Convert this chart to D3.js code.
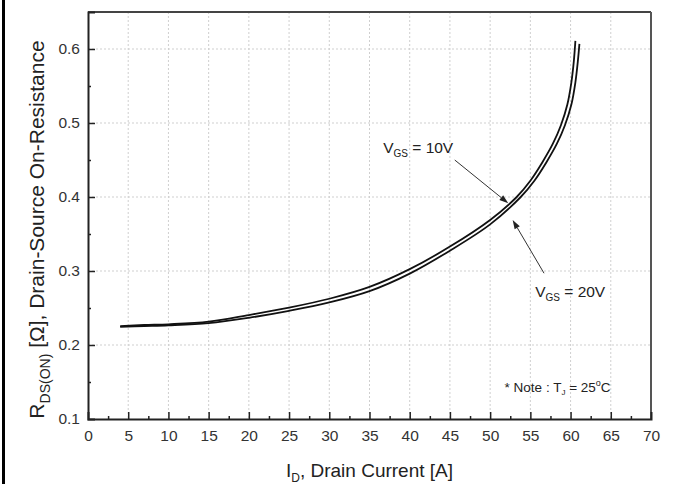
<!DOCTYPE html>
<html><head><meta charset="utf-8">
<script src="https://cdn.jsdelivr.net/npm/d3@7"></script>
<style>
html,body{margin:0;padding:0;background:#fff;}
svg{display:block;font-family:"Liberation Sans",Arial,sans-serif;}
</style></head>
<body>
<svg id="c" width="673" height="484"></svg>
<script>
// ---- data ----
const idVGS10 = [4, 7, 10, 15, 20, 25, 30, 35, 40, 45, 50, 53.3, 55.0, 56.5, 57.8, 58.8, 59.6, 60.1, 60.4, 60.6];
const rVGS10  = [0.2255, 0.227, 0.228, 0.2315, 0.2405, 0.2505, 0.2625, 0.2785, 0.3025, 0.333, 0.369, 0.400, 0.422, 0.447, 0.472, 0.497, 0.525, 0.555, 0.583, 0.611];
const idVGS20 = [4, 7, 10, 15, 20, 25, 30, 35, 40, 45, 50, 53.8, 55.5, 57.0, 58.3, 59.3, 60.1, 60.6, 60.9, 61.1];
const rVGS20  = [0.2245, 0.2255, 0.2265, 0.2295, 0.2368, 0.2462, 0.2575, 0.2728, 0.2965, 0.3275, 0.363, 0.400, 0.422, 0.447, 0.472, 0.497, 0.525, 0.555, 0.583, 0.607];
const xTickValues = [0, 5, 10, 15, 20, 25, 30, 35, 40, 45, 50, 55, 60, 65, 70];
const yTickValues = [0.1, 0.2, 0.3, 0.4, 0.5, 0.6];
const xDomain = [0, 70];
const yDomain = [0.1, 0.65];

const svg = d3.select("#c");
const L = 88, R = 651, T = 12, B = 419;
const x = d3.scaleLinear().domain(xDomain).range([L, R]);
const y = d3.scaleLinear().domain(yDomain).range([B, T]);

// image left border
svg.append("line").attr("x1", 3.5).attr("x2", 3.5).attr("y1", 0).attr("y2", 484)
  .attr("stroke", "#000").attr("stroke-width", 3);

// grid
const g = svg.append("g");
g.selectAll(".gx").data(xTickValues.filter(d => d > 0 && d < 70)).join("line")
  .attr("x1", d => x(d)).attr("x2", d => x(d)).attr("y1", T).attr("y2", B)
  .attr("stroke", "#cfcfcf").attr("stroke-width", 1).attr("stroke-dasharray", "2,2");
g.selectAll(".gy").data(yTickValues.filter(d => d > 0.1)).join("line")
  .attr("y1", d => y(d)).attr("y2", d => y(d)).attr("x1", L).attr("x2", R)
  .attr("stroke", "#cfcfcf").attr("stroke-width", 1).attr("stroke-dasharray", "2,2");

// frame
svg.append("line").attr("x1", L).attr("x2", R).attr("y1", T).attr("y2", T).attr("stroke", "#444").attr("stroke-width", 2);
svg.append("line").attr("x1", R).attr("x2", R).attr("y1", T).attr("y2", B).attr("stroke", "#555").attr("stroke-width", 2);

// axes
const xMinor = d3.range(2.5, 70, 5);
const yMinor = d3.range(0.15, 0.65, 0.1);
const xAx = svg.append("g").attr("transform", `translate(0,${B})`)
  .call(d3.axisBottom(x).tickValues(xTickValues).tickSize(-7).tickPadding(11).tickFormat(d3.format("d")));
const xAxMinor = svg.append("g").attr("transform", `translate(0,${B})`)
  .call(d3.axisBottom(x).tickValues(xMinor).tickSize(-3).tickFormat(""));
const yAx = svg.append("g").attr("transform", `translate(${L},0)`)
  .call(d3.axisLeft(y).tickValues(yTickValues).tickSize(-7).tickPadding(8).tickFormat(d3.format(".1f")));
const yAxMinor = svg.append("g").attr("transform", `translate(${L},0)`)
  .call(d3.axisLeft(y).tickValues(yMinor).tickSize(-3).tickFormat(""));
[xAxMinor, yAxMinor].forEach(a => a.select(".domain").remove());
[xAx, yAx, xAxMinor, yAxMinor].forEach(a => {
  a.selectAll(".domain").attr("stroke", "#222").attr("stroke-width", 2);
  a.selectAll(".tick line").attr("stroke", "#222").attr("stroke-width", 1.5);
  a.selectAll("text").attr("fill", "#333").attr("font-size", 15.5)
    .attr("font-family", "'Liberation Sans',Arial,sans-serif");
});
yAx.selectAll(".tick").filter(d => d === 0.1).select("line").remove();
xAx.selectAll(".tick").filter(d => d === 0 || d === 70).select("line").remove();

// curves
const line = d3.line().x(d => x(d[0])).y(d => y(d[1])).curve(d3.curveCatmullRom.alpha(0.5));
const s10 = idVGS10.map((v, i) => [v, rVGS10[i]]);
const s20 = idVGS20.map((v, i) => [v, rVGS20[i]]);
[s10, s20].forEach(s => {
  svg.append("path").attr("d", line(s)).attr("fill", "none")
    .attr("stroke", "#111").attr("stroke-width", 1.8);
});

// annotations
function arrow(x0, y0, x1, y1) {
  const px0 = x(x0), py0 = y(y0), px1 = x(x1), py1 = y(y1);
  const ang = Math.atan2(py1 - py0, px1 - px0);
  const hl = 9, hw = 3;
  const bx = px1 - hl * Math.cos(ang), by = py1 - hl * Math.sin(ang);
  svg.append("line").attr("x1", px0).attr("y1", py0).attr("x2", bx).attr("y2", by)
    .attr("stroke", "#333").attr("stroke-width", 1);
  const pts = [[px1, py1],
    [bx + hw * Math.sin(ang), by - hw * Math.cos(ang)],
    [bx - hw * Math.sin(ang), by + hw * Math.cos(ang)]];
  svg.append("polygon").attr("points", pts.map(p => p.join(",")).join(" ")).attr("fill", "#222");
}
arrow(45.6, 0.450, 52.25, 0.3915);
arrow(56.7, 0.297, 52.8, 0.369);

function vgsLabel(xv, yv, val) {
  const t = svg.append("text").attr("x", x(xv)).attr("y", y(yv))
    .attr("font-size", 15.5).attr("fill", "#222");
  t.append("tspan").text("V");
  t.append("tspan").attr("font-size", 10).attr("dy", 4).text("GS");
  t.append("tspan").attr("dy", -4).text(" = " + val);
}
vgsLabel(36.7, 0.4595, "10V");
vgsLabel(55.6, 0.265, "20V");

const note = svg.append("text").attr("x", x(51.8)).attr("y", y(0.136))
  .attr("font-size", 13.5).attr("fill", "#222");
note.append("tspan").text("* Note : T");
note.append("tspan").attr("font-size", 8).attr("dy", 3).text("J");
note.append("tspan").attr("dy", -3).text(" = 25");
note.append("tspan").attr("font-size", 9).attr("dy", -6).text("o");
note.append("tspan").attr("dy", 6).text("C");

// axis titles
const xt = svg.append("text").attr("x", (L + R) / 2).attr("y", 477)
  .attr("text-anchor", "middle").attr("font-size", 19).attr("fill", "#222");
xt.append("tspan").text("I");
xt.append("tspan").attr("font-size", 12).attr("dy", 5).text("D");
xt.append("tspan").attr("dy", -5).text(", Drain Current [A]");

const yt = svg.append("text").attr("transform", `translate(44,${(T + B) / 2 + 14}) rotate(-90)`)
  .attr("text-anchor", "middle").attr("font-size", 21).attr("fill", "#222");
yt.append("tspan").text("R");
yt.append("tspan").attr("font-size", 14).attr("dy", 6).text("DS(ON)");
yt.append("tspan").attr("dy", -6).text(" [Ω], Drain-Source On-Resistance");
</script>
</body></html>
